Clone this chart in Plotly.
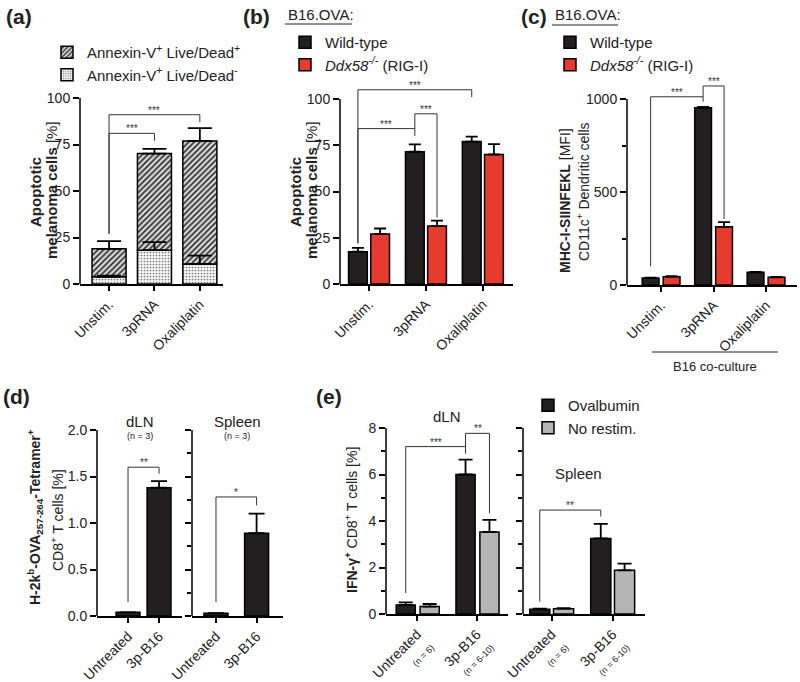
import plotly.graph_objects as go

W, H = 800, 682
FONT = "Liberation Sans, Arial, Helvetica, sans-serif"
BLACK = "#231f20"
RED = "#e63b2e"
GRAY = "#b5b5b5"

# ---------------- data ----------------
cats_abc = ["Unstim.", "3pRNA", "Oxaliplatin"]

a_ld_neg = [3.9, 18.2, 10.8]
a_ld_neg_err = [0.6, 4.3, 4.5]
a_ld_pos = [15.0, 51.9, 66.1]
a_ld_pos_err = [4.1, 2.5, 6.9]

b_wt = [17.5, 71.5, 77.0]
b_wt_err = [2.0, 4.0, 2.7]
b_ko = [27.0, 31.3, 70.0]
b_ko_err = [3.0, 3.0, 5.6]

c_wt = [37, 953, 68]
c_wt_err = [3, 4, 2]
c_ko = [45, 313, 41]
c_ko_err = [3, 25, 3]

cats_de = ["Untreated", "3p-B16"]
d_dln = [0.04, 1.38]
d_dln_err = [0.0, 0.07]
d_spl = [0.03, 0.89]
d_spl_err = [0.0, 0.21]

e_ticktext = ["Untreated<br><span style='font-size:9px'>(n = 6)</span>",
              "3p-B16<br><span style='font-size:9px'>(n = 6-10)</span>"]
e_dln_ova = [0.39, 6.0]
e_dln_ova_err = [0.11, 0.64]
e_dln_nr = [0.32, 3.53]
e_dln_nr_err = [0.11, 0.52]
e_spl_ova = [0.20, 3.25]
e_spl_ova_err = [0.03, 0.63]
e_spl_nr = [0.23, 1.88]
e_spl_nr_err = [0.02, 0.29]

# significance brackets: (axis index, x_left, x_right, level, left leg end, right leg end, label)
brackets = [
    (1, 0.0, 1.0, 81, 27, 77, "***"),
    (1, 0.0, 2.0, 91, 27, 87, "***"),
    (2, -0.195, 0.805, 84, 22, 80, "***"),
    (2, 0.805, 1.195, 92, 84, 36, "***"),
    (2, -0.195, 1.805, 105, 22, 101, "***"),
    (3, -0.2, 0.8, 1012, 100, 985, "***"),
    (3, 0.8, 1.2, 1070, 1012, 355, "***"),
    (4, 0.0, 1.0, 1.60, 0.15, 1.53, "**"),
    (5, 0.0, 1.0, 1.28, 0.15, 1.19, "*"),
    (6, -0.19, 0.81, 7.2, 0.9, 6.9, "***"),
    (6, 0.81, 1.21, 7.77, 7.2, 4.33, "**"),
    (7, -0.195, 0.805, 4.47, 0.53, 4.19, "**"),
]


def xd(a, b):
    return [a / W, b / W]


def yd(bottom, top):
    return [1 - bottom / H, 1 - top / H]


fig = go.Figure()


def axnames(ax):
    return ("x" if ax == 1 else f"x{ax}"), ("y" if ax == 1 else f"y{ax}")


def err_dict(err, cap):
    return dict(type="data", array=err, arrayminus=[0] * len(err), symmetric=False,
                color="black", thickness=1.8, width=cap)


def add_bar(ax, x, y, err, color, width, offset=None, name=None, legend=None,
            showlegend=False, pattern=None, base=None, cap=6, rank=None, show_err=True):
    marker = dict(color=color, line=dict(color="black", width=1.5))
    if pattern is not None:
        marker["pattern"] = pattern
    kw = {}
    if offset is not None:
        kw["offset"] = offset
    if base is not None:
        kw["base"] = base
    if legend is not None:
        kw["legend"] = legend
    if rank is not None:
        kw["legendrank"] = rank
    if show_err:
        kw["error_y"] = err_dict(err, cap)
    xa, ya = axnames(ax)
    fig.add_trace(go.Bar(
        x=x, y=y, width=width, marker=marker, name=name, showlegend=showlegend,
        xaxis=xa, yaxis=ya, hoverinfo="skip", **kw))


HATCH = dict(shape="/", fgcolor="#2a2a2a", bgcolor="#d8d8d8", size=4, solidity=0.4)
DOTS = dict(shape=".", fgcolor="#777777", bgcolor="#f4f4f4", size=3, solidity=0.25)

# (a)
add_bar(1, cats_abc, a_ld_neg, a_ld_neg_err, "white", 0.75, name="Annexin-V<sup>+</sup> Live/Dead<sup>-</sup>",
        legend="legend", showlegend=True, pattern=DOTS, cap=12, rank=2, show_err=False)
add_bar(1, cats_abc, a_ld_pos, a_ld_pos_err, "white", 0.75, name="Annexin-V<sup>+</sup> Live/Dead<sup>+</sup>",
        legend="legend", showlegend=True, pattern=HATCH, base=a_ld_neg, cap=12, rank=1)
# error bars of the lower (Live/Dead-) segment drawn above the stacked bars
fig.add_trace(go.Scatter(x=cats_abc, y=a_ld_neg, mode="markers", marker=dict(size=1, opacity=0),
                         error_y=err_dict(a_ld_neg_err, 12), showlegend=False, hoverinfo="skip",
                         xaxis="x", yaxis="y"))
# (b)
add_bar(2, cats_abc, b_wt, b_wt_err, BLACK, 0.33, offset=-0.36, name="Wild-type", legend="legend2", showlegend=True)
add_bar(2, cats_abc, b_ko, b_ko_err, RED, 0.33, offset=0.03, name="<i>Ddx58<sup>-/-</sup></i> (RIG-I)",
        legend="legend2", showlegend=True)
# (c)
add_bar(3, cats_abc, c_wt, c_wt_err, BLACK, 0.32, offset=-0.36, name="Wild-type", legend="legend3", showlegend=True)
add_bar(3, cats_abc, c_ko, c_ko_err, RED, 0.32, offset=0.04, name="<i>Ddx58<sup>-/-</sup></i> (RIG-I)",
        legend="legend3", showlegend=True)
# (d)
add_bar(4, cats_de, d_dln, d_dln_err, BLACK, 0.77, cap=8)
add_bar(5, cats_de, d_spl, d_spl_err, BLACK, 0.59, cap=8)
# (e)
add_bar(6, cats_de, e_dln_ova, e_dln_ova_err, BLACK, 0.32, offset=-0.35, name="Ovalbumin",
        legend="legend4", showlegend=True, cap=7)
add_bar(6, cats_de, e_dln_nr, e_dln_nr_err, GRAY, 0.32, offset=0.05, name="No restim.",
        legend="legend4", showlegend=True, cap=7)
add_bar(7, cats_de, e_spl_ova, e_spl_ova_err, BLACK, 0.33, offset=-0.36, cap=7)
add_bar(7, cats_de, e_spl_nr, e_spl_nr_err, GRAY, 0.33, offset=0.03, cap=7)

# ---------------- axes ----------------
axes = {
    1: dict(xdom=(80, 223), ydom=(284, 98), xr=[-0.64, 2.51], yr=[0, 100], tv=[0, 25, 50, 75, 100],
            minor=None, labels=True, top=100, cats=cats_abc, ticktext=None, xfs=14),
    2: dict(xdom=(340, 513), ydom=(284, 284 - 108 * 1.85), xr=[-0.51, 2.53], yr=[0, 108],
            tv=[0, 25, 50, 75, 100], minor=None, labels=True, top=100, cats=cats_abc, ticktext=None, xfs=14),
    3: dict(xdom=(627, 797), ydom=(285, 285 - 1090 * 0.186), xr=[-0.65, 2.59], yr=[0, 1090],
            tv=[0, 500, 1000], minor=[250, 750], labels=True, top=1000, cats=cats_abc, ticktext=None, xfs=14),
    4: dict(xdom=(97, 182), ydom=(616, 430), xr=[-1.0, 1.74], yr=[0, 2], tv=[0, 0.5, 1.0, 1.5, 2.0],
            minor=None, labels=True, top=2, cats=cats_de, ticktext=None, fmt=".1f", xfs=14),
    5: dict(xdom=(192, 283), ydom=(616, 430), xr=[-0.59, 1.65], yr=[0, 2], tv=[0, 0.5, 1.0, 1.5, 2.0],
            minor=[0.25, 0.75, 1.25, 1.75], labels=False, top=2, cats=cats_de, ticktext=None, xfs=14),
    6: dict(xdom=(386, 508), ydom=(614, 428), xr=[-0.52, 1.52], yr=[0, 8], tv=[0, 2, 4, 6, 8],
            minor=[1, 3, 5, 7], labels=True, top=8, cats=cats_de, ticktext=e_ticktext, xfs=14),
    7: dict(xdom=(523, 645), ydom=(614, 428), xr=[-0.47, 1.53], yr=[0, 8], tv=[0, 2, 4, 6, 8],
            minor=[1, 3, 5, 7], labels=False, top=8, cats=cats_de, ticktext=e_ticktext, xfs=14),
}

shapes = []
annotations = []
layout_axes = {}
for i, a in axes.items():
    sx = "" if i == 1 else str(i)
    xa = dict(domain=xd(*a["xdom"]), range=a["xr"], type="category", anchor=f"y{sx}",
              automargin=False, fixedrange=True,
              showline=True, linecolor="black", linewidth=1.5, ticks="outside", ticklen=5,
              tickwidth=1.5, tickcolor="black", tickangle=-45, showgrid=False, zeroline=False,
              tickfont=dict(size=a["xfs"], color="#222", family=FONT))
    if a["ticktext"] is not None:
        xa.update(tickmode="array", tickvals=a["cats"], ticktext=a["ticktext"])
    ya = dict(domain=yd(*a["ydom"]), range=a["yr"], anchor=f"x{sx}", showline=False,
              automargin=False, fixedrange=True,
              tickmode="array", tickvals=a["tv"], ticks="outside", ticklen=6, tickwidth=1.5,
              tickcolor="black", showgrid=False, zeroline=False, showticklabels=a["labels"],
              tickfont=dict(size=14, color="#222", family=FONT))
    if a.get("fmt"):
        ya["tickformat"] = a["fmt"]
    if a["minor"] is not None:
        ya["minor"] = dict(tickmode="array", tickvals=a["minor"], ticks="outside", ticklen=4,
                           tickwidth=1.5, tickcolor="black", showgrid=False)
    layout_axes[f"xaxis{sx}"] = xa
    layout_axes[f"yaxis{sx}"] = ya
    shapes.append(dict(type="line", xref="paper", yref=f"y{sx}", x0=a["xdom"][0] / W,
                       x1=a["xdom"][0] / W, y0=0, y1=a["top"], line=dict(color="black", width=1.5)))

for (i, xl, xr_, lvl, le, re, lab) in brackets:
    sx = "" if i == 1 else str(i)
    ln = dict(color="#333", width=1)
    shapes.append(dict(type="line", xref=f"x{sx}", yref=f"y{sx}", x0=xl, x1=xr_, y0=lvl, y1=lvl, line=ln))
    shapes.append(dict(type="line", xref=f"x{sx}", yref=f"y{sx}", x0=xl, x1=xl, y0=le, y1=lvl, line=ln))
    shapes.append(dict(type="line", xref=f"x{sx}", yref=f"y{sx}", x0=xr_, x1=xr_, y0=re, y1=lvl, line=ln))
    annotations.append(dict(xref=f"x{sx}", yref=f"y{sx}", x=(xl + xr_) / 2, y=lvl, text=lab,
                            showarrow=False, yanchor="bottom", yshift=-3,
                            font=dict(size=10, color="#333", family=FONT)))


def pann(x, y, text, size=14, angle=0, xanchor="center", yanchor="middle", **kw):
    annotations.append(dict(xref="paper", yref="paper", x=x / W, y=1 - y / H, text=text,
                            showarrow=False, textangle=angle, xanchor=xanchor, yanchor=yanchor,
                            font=dict(size=size, color="#222", family=FONT), **kw))


# panel letters
pann(4, 17, "<b>(a)</b>", size=21, xanchor="left")
pann(241, 17, "<b>(b)</b>", size=21, xanchor="left")
pann(519, 17, "<b>(c)</b>", size=21, xanchor="left")
pann(1, 396, "<b>(d)</b>", size=21, xanchor="left")
pann(314, 396, "<b>(e)</b>", size=21, xanchor="left")

# y-axis titles (each line placed on its own)
pann(36, 192, "<b>Apoptotic</b>", size=15, angle=-90)
pann(52, 190, "<b>melanoma cells</b> [%]", size=15, angle=-90)
pann(296, 192, "<b>Apoptotic</b>", size=15, angle=-90)
pann(312, 190, "<b>melanoma cells</b> [%]", size=15, angle=-90)
pann(565, 201, "<b>MHC-I-SIINFEKL</b> [MFI]", size=14, angle=-90)
pann(583, 192, "CD11c<sup>+</sup> Dendritic cells", size=14, angle=-90)
pann(35, 517, "<b>H-2k<sup>b</sup>-OVA<sub>257-264</sub>-Tetramer<sup>+</sup></b>", size=14, angle=-90)
pann(57, 520, "CD8<sup>+</sup> T cells [%]", size=14, angle=-90)
pann(351, 520, "<b>IFN-γ<sup>+</sup></b> CD8<sup>+</sup> T cells [%]", size=14, angle=-90)

# B16.OVA headers
pann(286, 15, "B16.OVA:", size=15, xanchor="left")
pann(553, 15, "B16.OVA:", size=15, xanchor="left")
shapes.append(dict(type="line", xref="paper", yref="paper", x0=285 / W, x1=352 / W,
                   y0=1 - 24 / H, y1=1 - 24 / H, line=dict(color="#222", width=1)))
shapes.append(dict(type="line", xref="paper", yref="paper", x0=552 / W, x1=618 / W,
                   y0=1 - 25 / H, y1=1 - 25 / H, line=dict(color="#222", width=1)))

# B16 co-culture
shapes.append(dict(type="line", xref="paper", yref="paper", x0=652 / W, x1=778 / W,
                   y0=1 - 352 / H, y1=1 - 352 / H, line=dict(color="#222", width=1.2)))
pann(715, 366, "B16 co-culture", size=13)

# (d)/(e) subtitles
pann(140, 421, "dLN", size=15)
pann(140, 436, "(n = 3)", size=9)
pann(237, 421, "Spleen", size=15)
pann(237, 436, "(n = 3)", size=9)
pann(447, 416, "dLN", size=15)
pann(578, 473, "Spleen", size=15)

legend_common = dict(xanchor="left", yanchor="top", bgcolor="rgba(0,0,0,0)",
                     font=dict(size=15, color="#222", family=FONT), tracegroupgap=0,
                     traceorder="normal", itemclick=False, itemdoubleclick=False)

fig.update_layout(
    template="none",
    width=W, height=H, margin=dict(l=0, r=0, t=0, b=0, autoexpand=False),
    paper_bgcolor="white", plot_bgcolor="white", barmode="overlay",
    font=dict(family=FONT, color="#222"),
    showlegend=True, hovermode=False,
    legend=dict(x=47 / W, y=1 - 36 / H, **legend_common),
    legend2=dict(x=285 / W, y=1 - 26 / H, **legend_common),
    legend3=dict(x=550 / W, y=1 - 26 / H, **legend_common),
    legend4=dict(x=528 / W, y=1 - 389 / H, **legend_common),
    shapes=shapes, annotations=annotations,
    **layout_axes,
)

fig.write_html("out.html", config={"displayModeBar": False},
               post_script="document.body.style.margin='0px';document.body.style.padding='0px';")
